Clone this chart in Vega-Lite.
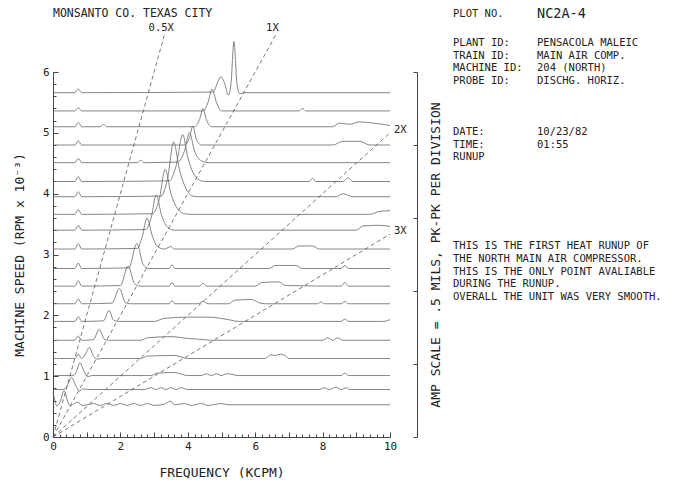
{
  "$schema": "https://vega.github.io/schema/vega-lite/v6.json",
  "background": "white",
  "padding": {"left": 13, "top": 6, "right": 5, "bottom": 0},
  "bounds": "flush",
  "spacing": 63,
  "config": {
    "view": {"stroke": null},
    "font": "DejaVu Sans Mono",
    "axis": {"labelFont": "DejaVu Sans Mono", "titleFont": "DejaVu Sans Mono", "labelColor": "#222", "titleColor": "#222", "titleFontWeight": "normal", "domainColor": "#444", "tickColor": "#444", "grid": false, "labelFlush": false, "labelOverlap": false}
  },
  "datasets": {
    "spectra": [
      {"s":0.53,"f":0,"y":0.73},{"s":0.53,"f":0.05,"y":0.62},{"s":0.53,"f":0.11,"y":0.51},{"s":0.53,"f":0.2,"y":0.56},{"s":0.53,"f":0.33,"y":0.76},{"s":0.53,"f":0.45,"y":0.56},{"s":0.53,"f":0.52,"y":0.51},{"s":0.53,"f":0.6,"y":0.54},{"s":0.53,"f":0.75,"y":0.57},{"s":0.53,"f":0.85,"y":0.52},{"s":0.53,"f":1.0,"y":0.53},{"s":0.53,"f":1.2,"y":0.55},{"s":0.53,"f":1.4,"y":0.52},{"s":0.53,"f":1.6,"y":0.55},{"s":0.53,"f":1.8,"y":0.52},{"s":0.53,"f":2.0,"y":0.55},{"s":0.53,"f":2.2,"y":0.52},{"s":0.53,"f":2.4,"y":0.55},{"s":0.53,"f":2.6,"y":0.52},{"s":0.53,"f":2.8,"y":0.55},{"s":0.53,"f":3.0,"y":0.52},{"s":0.53,"f":3.3,"y":0.54},{"s":0.53,"f":3.5,"y":0.59},{"s":0.53,"f":3.6,"y":0.53},{"s":0.53,"f":3.9,"y":0.55},{"s":0.53,"f":4.1,"y":0.52},{"s":0.53,"f":4.4,"y":0.55},{"s":0.53,"f":4.6,"y":0.52},{"s":0.53,"f":5.0,"y":0.55},{"s":0.53,"f":5.2,"y":0.53},{"s":0.53,"f":10,"y":0.53},
      {"s":0.78,"f":0,"y":0.78},{"s":0.78,"f":0.3,"y":0.78},{"s":0.78,"f":0.42,"y":0.84},{"s":0.78,"f":0.55,"y":0.98},{"s":0.78,"f":0.68,"y":0.84},{"s":0.78,"f":0.78,"y":0.76},{"s":0.78,"f":0.9,"y":0.79},{"s":0.78,"f":1.1,"y":0.78},{"s":0.78,"f":2.7,"y":0.78},{"s":0.78,"f":2.9,"y":0.81},{"s":0.78,"f":3.05,"y":0.78},{"s":0.78,"f":3.2,"y":0.81},{"s":0.78,"f":3.35,"y":0.78},{"s":0.78,"f":3.5,"y":0.81},{"s":0.78,"f":3.65,"y":0.78},{"s":0.78,"f":3.8,"y":0.81},{"s":0.78,"f":4.0,"y":0.78},{"s":0.78,"f":7.9,"y":0.78},{"s":0.78,"f":8.05,"y":0.81},{"s":0.78,"f":8.2,"y":0.78},{"s":0.78,"f":8.4,"y":0.82},{"s":0.78,"f":8.55,"y":0.78},{"s":0.78,"f":8.7,"y":0.81},{"s":0.78,"f":8.8,"y":0.78},{"s":0.78,"f":10,"y":0.78},
      {"s":1.01,"f":0,"y":1.01},{"s":1.01,"f":0.6,"y":1.01},{"s":1.01,"f":0.7,"y":1.08},{"s":1.01,"f":0.8,"y":1.22},{"s":1.01,"f":0.92,"y":1.08},{"s":1.01,"f":1.02,"y":0.99},{"s":1.01,"f":1.15,"y":1.01},{"s":1.01,"f":2.9,"y":1.01},{"s":1.01,"f":3.1,"y":1.05},{"s":1.01,"f":3.6,"y":1.06},{"s":1.01,"f":4.0,"y":1.01},{"s":1.01,"f":4.4,"y":1.01},{"s":1.01,"f":4.55,"y":1.04},{"s":1.01,"f":4.7,"y":1.01},{"s":1.01,"f":4.85,"y":1.04},{"s":1.01,"f":5.0,"y":1.01},{"s":1.01,"f":5.15,"y":1.04},{"s":1.01,"f":5.3,"y":1.03},{"s":1.01,"f":5.5,"y":1.01},{"s":1.01,"f":8.55,"y":1.01},{"s":1.01,"f":8.66,"y":1.05},{"s":1.01,"f":8.77,"y":1.01},{"s":1.01,"f":10,"y":1.01},
      {"s":1.29,"f":0,"y":1.29},{"s":1.29,"f":0.65,"y":1.29},{"s":1.29,"f":0.75,"y":1.36},{"s":1.29,"f":0.85,"y":1.29},{"s":1.29,"f":0.95,"y":1.35},{"s":1.29,"f":1.08,"y":1.47},{"s":1.29,"f":1.2,"y":1.33},{"s":1.29,"f":1.3,"y":1.28},{"s":1.29,"f":1.45,"y":1.29},{"s":1.29,"f":2.6,"y":1.29},{"s":1.29,"f":2.8,"y":1.33},{"s":1.29,"f":3.6,"y":1.34},{"s":1.29,"f":4.0,"y":1.29},{"s":1.29,"f":6.3,"y":1.29},{"s":1.29,"f":6.45,"y":1.35},{"s":1.29,"f":6.6,"y":1.34},{"s":1.29,"f":6.75,"y":1.36},{"s":1.29,"f":6.9,"y":1.33},{"s":1.29,"f":7.0,"y":1.29},{"s":1.29,"f":10,"y":1.29},
      {"s":1.59,"f":0,"y":1.59},{"s":1.59,"f":0.65,"y":1.59},{"s":1.59,"f":0.75,"y":1.66},{"s":1.59,"f":0.85,"y":1.59},{"s":1.59,"f":1.2,"y":1.6},{"s":1.59,"f":1.37,"y":1.77},{"s":1.59,"f":1.52,"y":1.61},{"s":1.59,"f":1.65,"y":1.59},{"s":1.59,"f":2.6,"y":1.59},{"s":1.59,"f":2.8,"y":1.63},{"s":1.59,"f":3.5,"y":1.65},{"s":1.59,"f":4.0,"y":1.62},{"s":1.59,"f":4.5,"y":1.6},{"s":1.59,"f":4.7,"y":1.59},{"s":1.59,"f":8.0,"y":1.59},{"s":1.59,"f":8.15,"y":1.63},{"s":1.59,"f":8.3,"y":1.59},{"s":1.59,"f":8.45,"y":1.63},{"s":1.59,"f":8.6,"y":1.59},{"s":1.59,"f":10,"y":1.59},
      {"s":1.9,"f":0,"y":1.9},{"s":1.9,"f":0.65,"y":1.9},{"s":1.9,"f":0.75,"y":1.98},{"s":1.9,"f":0.85,"y":1.9},{"s":1.9,"f":1.5,"y":1.91},{"s":1.9,"f":1.66,"y":2.08},{"s":1.9,"f":1.8,"y":1.92},{"s":1.9,"f":1.95,"y":1.9},{"s":1.9,"f":3.0,"y":1.9},{"s":1.9,"f":3.3,"y":1.95},{"s":1.9,"f":4.0,"y":1.97},{"s":1.9,"f":4.6,"y":1.97},{"s":1.9,"f":5.2,"y":1.93},{"s":1.9,"f":5.5,"y":1.9},{"s":1.9,"f":8.55,"y":1.9},{"s":1.9,"f":8.66,"y":1.94},{"s":1.9,"f":8.77,"y":1.9},{"s":1.9,"f":9.8,"y":1.9},{"s":1.9,"f":10,"y":1.93},
      {"s":2.19,"f":0,"y":2.19},{"s":2.19,"f":0.65,"y":2.19},{"s":2.19,"f":0.75,"y":2.27},{"s":2.19,"f":0.85,"y":2.19},{"s":2.19,"f":1.75,"y":2.2},{"s":2.19,"f":1.97,"y":2.44},{"s":2.19,"f":2.15,"y":2.21},{"s":2.19,"f":2.3,"y":2.19},{"s":2.19,"f":3.45,"y":2.19},{"s":2.19,"f":3.53,"y":2.24},{"s":2.19,"f":3.62,"y":2.19},{"s":2.19,"f":4.3,"y":2.19},{"s":2.19,"f":4.45,"y":2.23},{"s":2.19,"f":4.6,"y":2.19},{"s":2.19,"f":5.2,"y":2.19},{"s":2.19,"f":5.4,"y":2.25},{"s":2.19,"f":5.9,"y":2.26},{"s":2.19,"f":6.1,"y":2.21},{"s":2.19,"f":6.3,"y":2.19},{"s":2.19,"f":7.85,"y":2.19},{"s":2.19,"f":7.95,"y":2.22},{"s":2.19,"f":8.05,"y":2.19},{"s":2.19,"f":8.55,"y":2.19},{"s":2.19,"f":8.66,"y":2.23},{"s":2.19,"f":8.77,"y":2.19},{"s":2.19,"f":10,"y":2.19},
      {"s":2.48,"f":0,"y":2.48},{"s":2.48,"f":0.65,"y":2.48},{"s":2.48,"f":0.75,"y":2.57},{"s":2.48,"f":0.85,"y":2.48},{"s":2.48,"f":2.0,"y":2.49},{"s":2.48,"f":2.23,"y":2.81},{"s":2.48,"f":2.42,"y":2.52},{"s":2.48,"f":2.58,"y":2.48},{"s":2.48,"f":3.45,"y":2.48},{"s":2.48,"f":3.53,"y":2.54},{"s":2.48,"f":3.62,"y":2.48},{"s":2.48,"f":4.35,"y":2.48},{"s":2.48,"f":4.45,"y":2.53},{"s":2.48,"f":4.55,"y":2.48},{"s":2.48,"f":6.0,"y":2.48},{"s":2.48,"f":6.2,"y":2.54},{"s":2.48,"f":6.7,"y":2.55},{"s":2.48,"f":6.9,"y":2.49},{"s":2.48,"f":8.55,"y":2.48},{"s":2.48,"f":8.66,"y":2.54},{"s":2.48,"f":8.77,"y":2.48},{"s":2.48,"f":10,"y":2.48},
      {"s":2.77,"f":0,"y":2.77},{"s":2.77,"f":0.65,"y":2.77},{"s":2.77,"f":0.75,"y":2.86},{"s":2.77,"f":0.85,"y":2.77},{"s":2.77,"f":2.25,"y":2.78},{"s":2.77,"f":2.49,"y":3.18},{"s":2.77,"f":2.68,"y":2.83},{"s":2.77,"f":2.85,"y":2.77},{"s":2.77,"f":3.45,"y":2.77},{"s":2.77,"f":3.53,"y":2.83},{"s":2.77,"f":3.62,"y":2.77},{"s":2.77,"f":6.4,"y":2.77},{"s":2.77,"f":6.6,"y":2.82},{"s":2.77,"f":7.2,"y":2.82},{"s":2.77,"f":7.4,"y":2.77},{"s":2.77,"f":8.55,"y":2.77},{"s":2.77,"f":8.66,"y":2.82},{"s":2.77,"f":8.77,"y":2.77},{"s":2.77,"f":10,"y":2.77},
      {"s":3.09,"f":0,"y":3.09},{"s":3.09,"f":0.65,"y":3.09},{"s":3.09,"f":0.75,"y":3.18},{"s":3.09,"f":0.85,"y":3.09},{"s":3.09,"f":2.5,"y":3.1},{"s":3.09,"f":2.65,"y":3.3},{"s":3.09,"f":2.79,"y":3.6},{"s":3.09,"f":2.95,"y":3.3},{"s":3.09,"f":3.1,"y":3.13},{"s":3.09,"f":3.3,"y":3.09},{"s":3.09,"f":3.5,"y":3.13},{"s":3.09,"f":3.6,"y":3.09},{"s":3.09,"f":7.1,"y":3.09},{"s":3.09,"f":7.3,"y":3.14},{"s":3.09,"f":7.7,"y":3.14},{"s":3.09,"f":7.9,"y":3.09},{"s":3.09,"f":10,"y":3.09},
      {"s":3.4,"f":0,"y":3.4},{"s":3.4,"f":0.65,"y":3.4},{"s":3.4,"f":0.75,"y":3.48},{"s":3.4,"f":0.85,"y":3.4},{"s":3.4,"f":2.75,"y":3.41},{"s":3.4,"f":2.92,"y":3.62},{"s":3.4,"f":3.06,"y":3.98},{"s":3.4,"f":3.22,"y":3.65},{"s":3.4,"f":3.4,"y":3.45},{"s":3.4,"f":3.6,"y":3.4},{"s":3.4,"f":9.0,"y":3.4},{"s":3.4,"f":9.2,"y":3.47},{"s":3.4,"f":9.7,"y":3.48},{"s":3.4,"f":10,"y":3.46},
      {"s":3.66,"f":0,"y":3.66},{"s":3.66,"f":0.65,"y":3.66},{"s":3.66,"f":0.75,"y":3.74},{"s":3.66,"f":0.85,"y":3.66},{"s":3.66,"f":2.95,"y":3.67},{"s":3.66,"f":3.15,"y":3.9},{"s":3.66,"f":3.33,"y":4.4},{"s":3.66,"f":3.5,"y":4.0},{"s":3.66,"f":3.7,"y":3.75},{"s":3.66,"f":3.9,"y":3.67},{"s":3.66,"f":4.1,"y":3.66},{"s":3.66,"f":9.4,"y":3.66},{"s":3.66,"f":9.7,"y":3.71},{"s":3.66,"f":10,"y":3.72},
      {"s":3.95,"f":0,"y":3.95},{"s":3.95,"f":0.65,"y":3.95},{"s":3.95,"f":0.75,"y":4.03},{"s":3.95,"f":0.85,"y":3.95},{"s":3.95,"f":3.2,"y":3.96},{"s":3.95,"f":3.4,"y":4.25},{"s":3.95,"f":3.58,"y":4.85},{"s":3.95,"f":3.75,"y":4.4},{"s":3.95,"f":3.95,"y":4.08},{"s":3.95,"f":4.15,"y":3.96},{"s":3.95,"f":4.35,"y":3.95},{"s":3.95,"f":8.4,"y":3.95},{"s":3.95,"f":8.6,"y":4.0},{"s":3.95,"f":8.9,"y":3.95},{"s":3.95,"f":10,"y":3.95},
      {"s":4.2,"f":0,"y":4.2},{"s":4.2,"f":0.65,"y":4.2},{"s":4.2,"f":0.75,"y":4.28},{"s":4.2,"f":0.85,"y":4.2},{"s":4.2,"f":3.45,"y":4.21},{"s":4.2,"f":3.65,"y":4.45},{"s":4.2,"f":3.85,"y":4.97},{"s":4.2,"f":4.0,"y":4.6},{"s":4.2,"f":4.2,"y":4.3},{"s":4.2,"f":4.4,"y":4.21},{"s":4.2,"f":4.6,"y":4.2},{"s":4.2,"f":7.6,"y":4.2},{"s":4.2,"f":7.7,"y":4.25},{"s":4.2,"f":7.8,"y":4.2},{"s":4.2,"f":8.6,"y":4.2},{"s":4.2,"f":8.75,"y":4.26},{"s":4.2,"f":8.9,"y":4.2},{"s":4.2,"f":10,"y":4.2},
      {"s":4.51,"f":0,"y":4.51},{"s":4.51,"f":0.65,"y":4.51},{"s":4.51,"f":0.75,"y":4.58},{"s":4.51,"f":0.85,"y":4.51},{"s":4.51,"f":2.5,"y":4.51},{"s":4.51,"f":2.6,"y":4.55},{"s":4.51,"f":2.7,"y":4.51},{"s":4.51,"f":3.7,"y":4.52},{"s":4.51,"f":3.9,"y":4.7},{"s":4.51,"f":4.05,"y":5.0},{"s":4.51,"f":4.2,"y":4.7},{"s":4.51,"f":4.4,"y":4.54},{"s":4.51,"f":4.6,"y":4.51},{"s":4.51,"f":10,"y":4.51},
      {"s":4.8,"f":0,"y":4.8},{"s":4.8,"f":0.65,"y":4.8},{"s":4.8,"f":0.75,"y":4.87},{"s":4.8,"f":0.85,"y":4.8},{"s":4.8,"f":3.9,"y":4.8},{"s":4.8,"f":4.05,"y":4.92},{"s":4.8,"f":4.15,"y":5.11},{"s":4.8,"f":4.25,"y":4.9},{"s":4.8,"f":4.4,"y":4.8},{"s":4.8,"f":8.3,"y":4.8},{"s":4.8,"f":8.6,"y":4.86},{"s":4.8,"f":9.1,"y":4.86},{"s":4.8,"f":9.4,"y":4.8},{"s":4.8,"f":10,"y":4.8},
      {"s":5.1,"f":0,"y":5.1},{"s":5.1,"f":0.65,"y":5.1},{"s":5.1,"f":0.75,"y":5.17},{"s":5.1,"f":0.85,"y":5.1},{"s":5.1,"f":1.4,"y":5.1},{"s":5.1,"f":1.5,"y":5.14},{"s":5.1,"f":1.6,"y":5.1},{"s":5.1,"f":4.2,"y":5.1},{"s":5.1,"f":4.35,"y":5.22},{"s":5.1,"f":4.45,"y":5.4},{"s":5.1,"f":4.55,"y":5.22},{"s":5.1,"f":4.7,"y":5.1},{"s":5.1,"f":8.3,"y":5.1},{"s":5.1,"f":8.5,"y":5.16},{"s":5.1,"f":8.8,"y":5.14},{"s":5.1,"f":9.1,"y":5.18},{"s":5.1,"f":9.5,"y":5.16},{"s":5.1,"f":9.9,"y":5.13},{"s":5.1,"f":10,"y":5.12},
      {"s":5.36,"f":0,"y":5.36},{"s":5.36,"f":0.65,"y":5.36},{"s":5.36,"f":0.75,"y":5.41},{"s":5.36,"f":0.85,"y":5.36},{"s":5.36,"f":4.45,"y":5.36},{"s":5.36,"f":4.6,"y":5.5},{"s":5.36,"f":4.72,"y":5.72},{"s":5.36,"f":4.85,"y":5.5},{"s":5.36,"f":5.0,"y":5.36},{"s":5.36,"f":7.3,"y":5.36},{"s":5.36,"f":7.4,"y":5.4},{"s":5.36,"f":7.5,"y":5.36},{"s":5.36,"f":10,"y":5.36},
      {"s":5.66,"f":0,"y":5.66},{"s":5.66,"f":0.65,"y":5.66},{"s":5.66,"f":0.75,"y":5.72},{"s":5.66,"f":0.85,"y":5.66},{"s":5.66,"f":4.75,"y":5.67},{"s":5.66,"f":4.9,"y":5.85},{"s":5.66,"f":4.98,"y":5.92},{"s":5.66,"f":5.1,"y":5.8},{"s":5.66,"f":5.2,"y":5.62},{"s":5.66,"f":5.28,"y":5.8},{"s":5.66,"f":5.37,"y":6.5},{"s":5.66,"f":5.46,"y":5.8},{"s":5.66,"f":5.55,"y":5.64},{"s":5.66,"f":5.65,"y":5.66},{"s":5.66,"f":10,"y":5.66}
    ],
    "orders": [
      {"order":"0.5X","f0":0,"s0":0,"f1":3.3,"s1":6.6},
      {"order":"1X","f0":0,"s0":0,"f1":6.6,"s1":6.6},
      {"order":"2X","f0":0,"s0":0,"f1":10,"s1":5},
      {"order":"3X","f0":0,"s0":0,"f1":10,"s1":3.333}
    ],
    "info": [
      {"line":1,"col":0,"text":"PLOT NO."},
      {"line":1,"col":1,"text":"NC2A-4"},
      {"line":3,"col":0,"text":"PLANT ID:"},
      {"line":3,"col":1,"text":"PENSACOLA MALEIC"},
      {"line":4,"col":0,"text":"TRAIN ID:"},
      {"line":4,"col":1,"text":"MAIN AIR COMP."},
      {"line":5,"col":0,"text":"MACHINE ID:"},
      {"line":5,"col":1,"text":"204 (NORTH)"},
      {"line":6,"col":0,"text":"PROBE ID:"},
      {"line":6,"col":1,"text":"DISCHG. HORIZ."},
      {"line":10,"col":0,"text":"DATE:"},
      {"line":10,"col":1,"text":"10/23/82"},
      {"line":11,"col":0,"text":"TIME:"},
      {"line":11,"col":1,"text":"01:55"},
      {"line":12,"col":0,"text":"RUNUP"},
      {"line":19,"col":0,"text":"THIS IS THE FIRST HEAT RUNUP OF"},
      {"line":20,"col":0,"text":"THE NORTH MAIN AIR COMPRESSOR."},
      {"line":21,"col":0,"text":"THIS IS THE ONLY POINT AVALIABLE"},
      {"line":22,"col":0,"text":"DURING THE RUNUP."},
      {"line":23,"col":0,"text":"OVERALL THE UNIT WAS VERY SMOOTH."}
    ]
  },
  "hconcat": [
    {
      "width": 337,
      "height": 365,
      "title": {"text": "MONSANTO CO.    TEXAS CITY", "anchor": "start", "frame": "group", "offset": 3, "fontSize": 11.5, "font": "DejaVu Sans Mono", "fontWeight": "normal", "color": "#222"},
      "layer": [
        {
          "data": {"name": "spectra"},
          "mark": {"type": "line", "interpolate": "monotone", "stroke": "#666", "strokeWidth": 0.8},
          "encoding": {
            "x": {"field": "f", "type": "quantitative", "scale": {"domain": [0, 10], "nice": false},
              "axis": {"orient": "bottom", "values": [0,1,2,3,4,5,6,7,8,9,10], "labelExpr": "datum.value % 2 === 0 ? datum.label : ''", "tickSize": -5, "labelPadding": 8, "labelFontSize": 11, "title": "FREQUENCY (KCPM)", "titleFontSize": 13, "titlePadding": 15}},
            "y": {"field": "y", "type": "quantitative", "scale": {"domain": [0, 6], "nice": false},
              "axis": {"orient": "left", "values": [0,1,2,3,4,5,6], "tickSize": -5, "labelPadding": 9, "labelFontSize": 11, "title": "MACHINE SPEED (RPM x 10⁻³)", "titleFontSize": 13, "titlePadding": 16}},
            "detail": {"field": "s", "type": "nominal"}
          }
        },
        {
          "data": {"name": "orders"},
          "mark": {"type": "rule", "strokeDash": [4, 3], "stroke": "#555", "strokeWidth": 0.8},
          "encoding": {
            "x": {"field": "f0", "type": "quantitative",
              "axis": {"orient": "bottom", "values": [0,0.2,0.4,0.6,0.8,1,1.2,1.4,1.6,1.8,2,2.2,2.4,2.6,2.8,3,3.2,3.4,3.6,3.8,4,4.2,4.4,4.6,4.8,5,5.2,5.4,5.6,5.8,6,6.2,6.4,6.6,6.8,7,7.2,7.4,7.6,7.8,8,8.2,8.4,8.6,8.8,9,9.2,9.4,9.6,9.8,10], "tickSize": -3, "labels": false, "domain": false, "title": null}},
            "y": {"field": "s0", "type": "quantitative",
              "axis": {"orient": "left", "values": [0,0.2,0.4,0.6,0.8,1,1.2,1.4,1.6,1.8,2,2.2,2.4,2.6,2.8,3,3.2,3.4,3.6,3.8,4,4.2,4.4,4.6,4.8,5,5.2,5.4,5.6,5.8,6], "tickSize": -3, "labels": false, "domain": false, "title": null}},
            "x2": {"field": "f1"},
            "y2": {"field": "s1"}
          }
        },
        {
          "data": {"name": "orders"},
          "transform": [{"filter": "datum.f1 < 10"}],
          "mark": {"type": "text", "align": "center", "baseline": "bottom", "dx": -3, "dy": -3, "fontSize": 10.5, "color": "#222"},
          "encoding": {
            "x": {"field": "f1", "type": "quantitative", "axis": null},
            "y": {"field": "s1", "type": "quantitative",
              "axis": {"orient": "right", "offset": 27, "values": [0, 1.2, 2.4, 3.6, 4.8, 6], "tickSize": -4, "labels": false, "title": "AMP SCALE = .5 MILS, PK-PK PER DIVISION", "titleAngle": 270, "titleBaseline": "top", "titlePadding": 12, "titleFontSize": 13}},
            "text": {"field": "order"}
          }
        },
        {
          "data": {"name": "orders"},
          "transform": [{"filter": "datum.f1 >= 10"}],
          "mark": {"type": "text", "align": "left", "baseline": "middle", "dx": 4, "dy": -3, "fontSize": 10.5, "color": "#222"},
          "encoding": {
            "x": {"field": "f1", "type": "quantitative", "axis": null},
            "y": {"field": "s1", "type": "quantitative", "axis": null},
            "text": {"field": "order"}
          }
        }
      ],
      "resolve": {"axis": {"x": "independent", "y": "independent"}}
    },
    {
      "width": 84,
      "height": 365,
      "data": {"name": "info"},
      "encoding": {
        "x": {"field": "col", "type": "quantitative", "scale": {"domain": [0, 1], "nice": false, "zero": false}, "axis": null},
        "y": {"field": "line", "type": "quantitative", "scale": {"domain": [5.283, 34.02], "reverse": true, "nice": false, "zero": false}, "axis": null},
        "text": {"field": "text"}
      },
      "layer": [
        {"transform": [{"filter": "datum.line > 1"}], "mark": {"type": "text", "align": "left", "baseline": "middle", "fontSize": 10.5, "color": "#222"}},
        {"transform": [{"filter": "datum.line == 1 && datum.col == 0"}], "mark": {"type": "text", "align": "left", "baseline": "middle", "dy": -4, "fontSize": 10.5, "color": "#222"}},
        {"transform": [{"filter": "datum.line == 1 && datum.col == 1"}], "mark": {"type": "text", "align": "left", "baseline": "middle", "dy": -4, "fontSize": 13.5, "color": "#222"}}
      ]
    }
  ]
}
